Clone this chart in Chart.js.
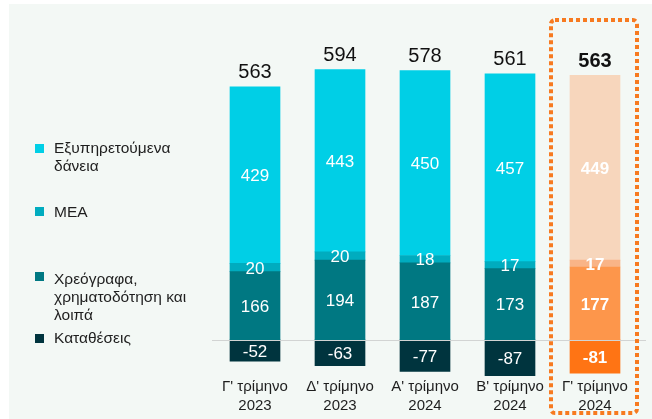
<!DOCTYPE html>
<html>
<head>
<meta charset="utf-8">
<script src="https://cdn.jsdelivr.net/npm/chart.js@4.4.1/dist/chart.umd.min.js"></script>
<style>
  html, body { margin: 0; padding: 0; background: #ffffff; }
  #wrap { position: relative; width: 652px; height: 419px; overflow: hidden; }
  #panel { position: absolute; left: 9px; top: 4px; width: 643px; height: 415px; background: #f3f8f5; }
  #grafico { position: absolute; left: 0; top: 0; }
  .leg { position: absolute; left: 54px; font-family: "Liberation Sans", Arial, sans-serif; font-size: 15.5px; line-height: 18px; color: #1e1e1e; }
  .sq { position: absolute; left: 35px; width: 9px; height: 9px; }
</style>
</head>
<body>
<div id="wrap">
  <div id="panel"></div>
  <canvas id="grafico" width="652" height="419"></canvas>
  <div class="sq" style="top:144px;background:#00cfe6"></div>
  <div class="leg" style="top:139px">Εξυπηρετούμενα<br>δάνεια</div>
  <div class="sq" style="top:207px;background:#00acbf"></div>
  <div class="leg" style="top:203px">ΜΕΑ</div>
  <div class="sq" style="top:272px;background:#007882"></div>
  <div class="leg" style="top:270px">Χρεόγραφα,<br>χρηματοδότηση και<br>λοιπά</div>
  <div class="sq" style="top:334px;background:#00343e"></div>
  <div class="leg" style="top:329px">Καταθέσεις</div>
</div>
<script>
// Δεδομενα
const labels = [["Γ' τρίμηνο", "2023"], ["Δ' τρίμηνο", "2023"], ["Α' τρίμηνο", "2024"], ["Β' τρίμηνο", "2024"], ["Γ' τρίμηνο", "2024"]];
const daneia = [429, 443, 450, 457, 449];
const mea = [20, 20, 18, 17, 17];
const xreografa = [166, 194, 187, 173, 177];
const katatheseis = [-52, -63, -77, -87, -81];
const synola = [563, 594, 578, 561, 563];

// το τελευταιο τριμηνο σε πορτοκαλι
function colors(normal, last) {
    return labels.map((l, i) => i === labels.length - 1 ? last : normal);
}

const dataset1 = { label: "Χρεόγραφα, χρηματοδότηση και λοιπά", data: xreografa, backgroundColor: colors('#007882', '#fd964b') };
const dataset2 = { label: "ΜΕΑ", data: mea, backgroundColor: colors('#00acbf', '#f9b487') };
const dataset3 = { label: "Εξυπηρετούμενα δάνεια", data: daneia, backgroundColor: colors('#00cfe6', '#f7d6bc') };
const dataset4 = { label: "Καταθέσεις", data: katatheseis, backgroundColor: colors('#00343e', '#ff7414') };

const FONT = '"Liberation Sans", Arial, sans-serif';

const etiketes = {
    id: 'etiketes',
    afterDatasetsDraw(chart) {
        const ctx = chart.ctx;
        const last = labels.length - 1;
        ctx.save();
        ctx.textAlign = 'center';
        ctx.textBaseline = 'middle';
        chart.data.datasets.forEach((ds, d) => {
            chart.getDatasetMeta(d).data.forEach((bar, i) => {
                const p = bar.getProps(['x', 'y', 'base'], true);
                ctx.fillStyle = '#ffffff';
                ctx.font = (i === last ? 'bold ' : '') + '17px ' + FONT;
                ctx.fillText(ds.data[i], p.x, (p.y + p.base) / 2 + 1.5);
            });
        });
        // συνολα
        const top = chart.getDatasetMeta(2).data;
        top.forEach((bar, i) => {
            ctx.fillStyle = '#111111';
            ctx.font = (i === last ? 'bold ' : '') + '20px ' + FONT;
            ctx.fillText(synola[i], bar.x, bar.y - 14);
        });
        // γραμμη μηδεν
        const y0 = Math.round(chart.scales.y.getPixelForValue(0)) + 0.5;
        ctx.strokeStyle = '#d2d4d3';
        ctx.lineWidth = 1;
        ctx.beginPath();
        ctx.moveTo(212, y0);
        ctx.lineTo(646, y0);
        ctx.stroke();
        // πλαισιο
        ctx.strokeStyle = '#f77a20';
        ctx.lineWidth = 4;
        ctx.setLineDash([4, 3]);
        ctx.beginPath();
        ctx.roundRect(551, 20, 86, 393, 4);
        ctx.stroke();
        ctx.restore();
    }
};

const graph = document.querySelector("#grafico");

new Chart(graph, {
    type: 'bar',
    data: { labels: labels, datasets: [dataset1, dataset2, dataset3, dataset4] },
    options: {
        responsive: false,
        animation: false,
        layout: { padding: { top: 52, left: 212.5, right: 14.5, bottom: 5 } },
        plugins: { legend: { display: false }, tooltip: { enabled: false } },
        datasets: { bar: { barThickness: 50 } },
        scales: {
            x: {
                stacked: true,
                grid: { display: false },
                border: { display: false },
                ticks: { color: '#1e1e1e', font: { family: FONT, size: 15, lineHeight: 1.3 }, padding: -7, maxRotation: 0 },
                afterFit(scale) { scale.height = 38; }
            },
            y: {
                stacked: true,
                display: false,
                min: -88,
                max: 700
            }
        }
    },
    plugins: [etiketes]
});
</script>
</body>
</html>
